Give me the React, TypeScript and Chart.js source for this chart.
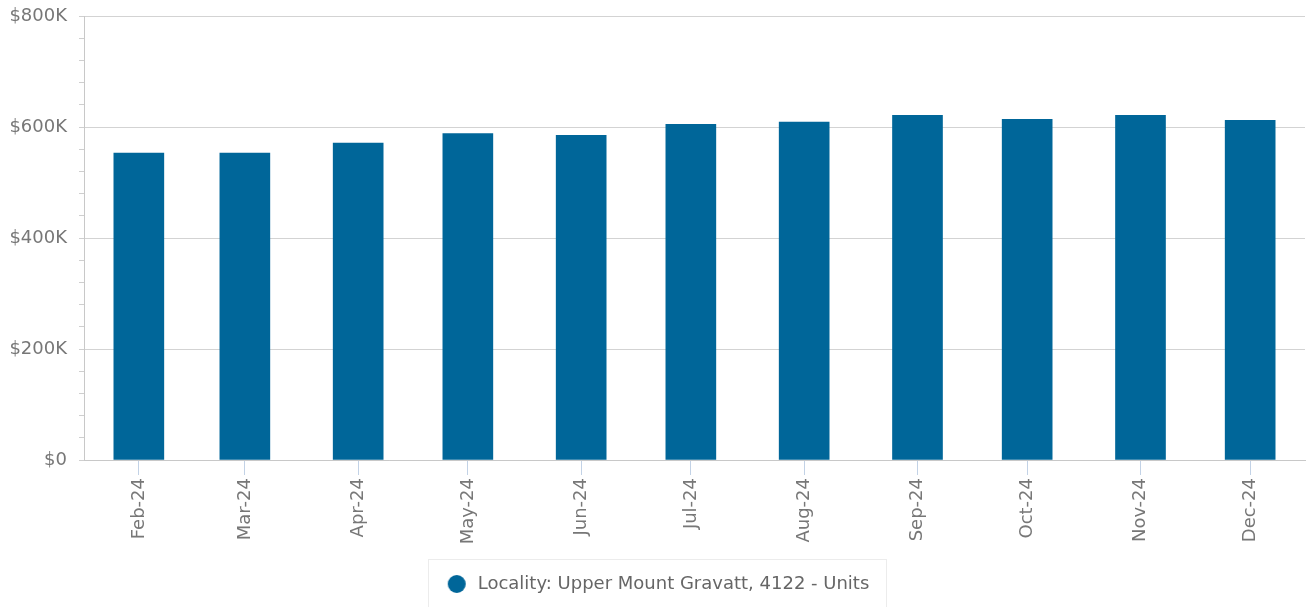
import React, { useEffect, useRef } from "react";
import { Chart, registerables } from "chart.js";

Chart.register(...registerables);

const monthLabels = ["Feb-24", "Mar-24", "Apr-24", "May-24", "Jun-24", "Jul-24", "Aug-24", "Sep-24", "Oct-24", "Nov-24", "Dec-24"];
const medianValues = [553000, 553000, 571000, 588000, 585000, 605000, 609000, 621000, 614000, 621000, 612000];
const seriesName = "Locality: Upper Mount Gravatt, 4122 - Units";
const yTickValues = [0, 200000, 400000, 600000, 800000];

const MONTHS = ["Jan", "Feb", "Mar", "Apr", "May", "Jun", "Jul", "Aug", "Sep", "Oct", "Nov", "Dec"];
const DAY = 86400000;
function labelToDay(l: string): number {
  const [m, y] = l.split("-");
  return Date.UTC(2000 + Number(y), MONTHS.indexOf(m), 1) / DAY;
}
const xDays = monthLabels.map(labelToDay);

const FONT = "'DejaVu Sans', Verdana, sans-serif";
const BAR_COLOR = "#006699";
const MARKER_BOX = 33;

function makeMarker(): HTMLCanvasElement {
  const c = document.createElement("canvas");
  c.width = 29;
  c.height = 20;
  const g = c.getContext("2d")!;
  g.fillStyle = BAR_COLOR;
  g.beginPath();
  g.arc(19, 10, 9, 0, Math.PI * 2);
  g.fill();
  return c;
}

const legendBorder = {
  id: "legendBorder",
  afterDraw(chart: any) {
    const lg = chart.legend;
    if (!lg || !lg.legendHitBoxes || !lg.legendHitBoxes.length) return;
    const hb = lg.legendHitBoxes[0];
    const cy = hb.top + hb.height / 2;
    const ctx = chart.ctx;
    ctx.save();
    ctx.strokeStyle = "#ececec";
    ctx.lineWidth = 1;
    ctx.strokeRect(Math.round(hb.left - 8) + 0.5, Math.round(cy - 25) + 0.5, Math.round(hb.width + 24), 62);
    ctx.restore();
  },
};

export default function App() {
  const ref = useRef<HTMLCanvasElement | null>(null);
  useEffect(() => {
    if (!ref.current) return;
    const marker = makeMarker();
    const chart = new Chart(ref.current, {
      type: "bar",
      data: {
        datasets: [
          {
            label: seriesName,
            data: xDays.map((x, i) => ({ x, y: medianValues[i] })),
            backgroundColor: BAR_COLOR,
            borderWidth: 0,
            barThickness: 50,
            pointStyle: marker,
          },
        ],
      },
      options: {
        animation: false,
        responsive: true,
        maintainAspectRatio: false,
        layout: { padding: { top: 16, right: 3, left: 0, bottom: 4 } },
        plugins: {
          tooltip: { enabled: false },
          legend: {
            position: "bottom",
            labels: {
              usePointStyle: true,
              pointStyleWidth: MARKER_BOX,
              boxWidth: MARKER_BOX,
              boxHeight: 13,
              color: "#666",
              padding: 14,
              font: { family: FONT, size: 18 },
              generateLabels: () => [
                {
                  text: seriesName,
                  fillStyle: BAR_COLOR,
                  strokeStyle: BAR_COLOR,
                  lineWidth: 0,
                  pointStyle: marker,
                  hidden: false,
                  datasetIndex: 0,
                  fontColor: "#666",
                },
              ],
            },
          },
        },
        scales: {
          x: {
            type: "linear",
            min: xDays[0] - 15,
            max: xDays[xDays.length - 1] + 15,
            offset: false,
            afterBuildTicks: (axis: any) => {
              axis.ticks = xDays.map((v) => ({ value: v }));
            },
            afterFit: (scale: any) => {
              scale.height = 101;
            },
            ticks: {
              autoSkip: false,
              minRotation: 90,
              maxRotation: 90,
              padding: 3,
              color: "#777",
              font: { family: FONT, size: 18 },
              callback: (v: any) => {
                const i = xDays.indexOf(Number(v));
                return i >= 0 ? monthLabels[i] : "";
              },
            },
            grid: {
              offset: false,
              drawOnChartArea: false,
              drawTicks: true,
              tickLength: 15,
              tickColor: "#c2d2e6",
            },
            border: { display: true, color: "#c8c8c8" },
          },
          y: {
            min: 0,
            max: 800000,
            afterBuildTicks: (axis: any) => {
              const t: any[] = [];
              for (let i = 0; i < yTickValues.length; i++) {
                t.push({ value: yTickValues[i] });
                if (i < yTickValues.length - 1) {
                  const step = (yTickValues[i + 1] - yTickValues[i]) / 5;
                  for (let k = 1; k < 5; k++) t.push({ value: yTickValues[i] + step * k, minor: true });
                }
              }
              axis.ticks = t;
            },
            afterFit: (scale: any) => {
              scale.width = 84;
              scale.paddingTop = 0;
              scale.paddingBottom = 0;
            },
            ticks: {
              autoSkip: false,
              padding: 12,
              color: "#777",
              font: { family: FONT, size: 18 },
              callback: (v: any) => {
                const n = Number(v);
                if (!yTickValues.includes(n)) return "";
                return n === 0 ? "$0" : "$" + n / 1000 + "K";
              },
            },
            grid: {
              color: (c: any) => (c.tick && yTickValues.includes(c.tick.value) ? "#d3d3d3" : "rgba(0,0,0,0)"),
              tickColor: "#cfcfcf",
              tickLength: 5,
              lineWidth: 1,
            },
            border: { display: true, color: "#c8c8c8" },
          },
        },
      },
      plugins: [legendBorder],
    } as any);
    return () => chart.destroy();
  }, []);
  return (
    <div style={{ position: "absolute", left: 0, top: 0, width: 1308, height: 607, background: "#fff" }}>
      <canvas ref={ref} />
    </div>
  );
}
